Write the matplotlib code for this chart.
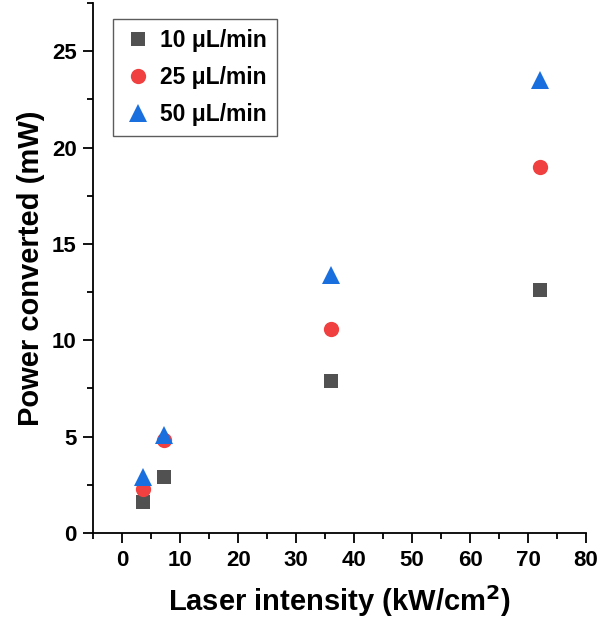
import numpy as np
import matplotlib
matplotlib.use("Agg")
import matplotlib.pyplot as plt
from matplotlib.ticker import MultipleLocator

plt.rcParams['font.family'] = ['Liberation Sans', 'DejaVu Sans']
plt.rcParams['font.weight'] = 'bold'

# laser intensity (kW/cm2)
intensity = [3.6, 7.2, 36.0, 72.0]
# power converted (mW) for each flow rate
power_10 = [1.6, 2.9, 7.9, 12.6]
power_25 = [2.3, 4.85, 10.6, 19.0]
power_50 = [2.9, 5.1, 13.4, 23.5]
labels = ['10 μL/min', '25 μL/min', '50 μL/min']

fig = plt.figure(figsize=(6.13, 6.30), dpi=100)
ax = fig.add_axes([0.152, 0.154, 0.804, 0.841])

ax.plot(intensity, power_10, 's', color='#515151', ms=9.5, mew=0, label=labels[0])
ax.plot(intensity, power_25, 'o', color='#F14040', ms=11, mew=0, label=labels[1])
ax.plot(intensity, power_50, '^', color='#1A6FDF', ms=13.5, mew=0, label=labels[2])

ax.set_xlim(-5, 80)
ax.set_ylim(0, 27.5)
ax.xaxis.set_major_locator(MultipleLocator(10))
ax.xaxis.set_minor_locator(MultipleLocator(5))
ax.yaxis.set_major_locator(MultipleLocator(5))
ax.yaxis.set_minor_locator(MultipleLocator(2.5))
ax.set_xticks(np.arange(0, 81, 10))

for s in ['top', 'right']:
    ax.spines[s].set_visible(False)
for s in ['left', 'bottom']:
    ax.spines[s].set_linewidth(1.3)

ax.tick_params(which='major', direction='out', length=7, width=1.3, labelsize=16, pad=5)
ax.tick_params(which='minor', direction='out', length=4, width=1.3)
for lab in ax.get_xticklabels() + ax.get_yticklabels():
    lab.set_fontweight('bold')

ax.set_xlabel('Laser intensity (kW/cm$^\\mathbf{2}$)', fontsize=21, fontweight='bold', labelpad=9)
ax.set_ylabel('Power converted (mW)', fontsize=21, fontweight='bold', labelpad=5)

leg = ax.legend(loc='upper left', bbox_to_anchor=(0.04, 0.97), fontsize=16.5,
                frameon=True, fancybox=False, edgecolor='#333333',
                handletextpad=0.3, borderpad=0.45, labelspacing=0.6,
                handlelength=1.3, borderaxespad=0)
leg.get_frame().set_linewidth(1.0)
for t in leg.get_texts():
    t.set_fontweight('bold')

fig.savefig('out.png', dpi=100)
